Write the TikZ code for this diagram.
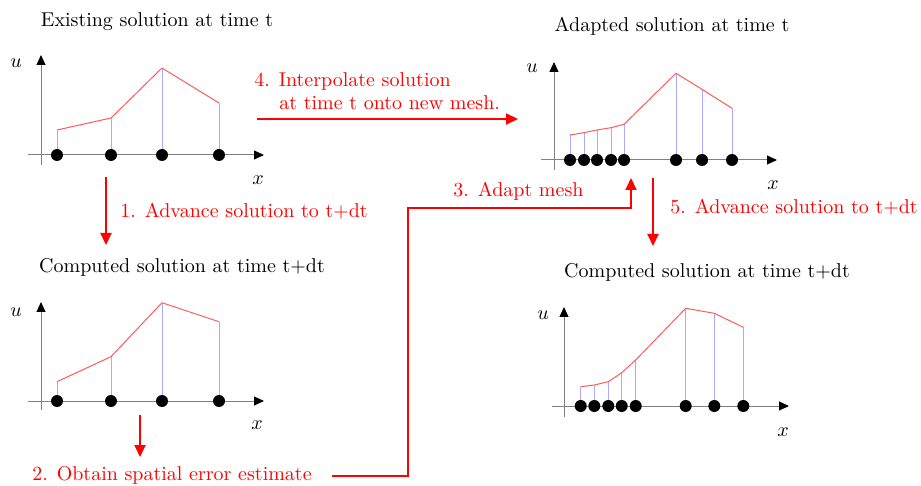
\documentclass[tikz,border=0pt]{standalone}
\usetikzlibrary{arrows.meta}
\begin{document}
\begin{tikzpicture}[x=0.5pt,y=-0.5pt,
  title/.style={font=\fontsize{10}{12}\selectfont, text=black, inner sep=0},
  steplabel/.style={font=\fontsize{10}{12}\selectfont, text=red, inner sep=0, anchor=west},
  axislabel/.style={font=\fontsize{10}{12}\selectfont, inner sep=0},
  axisline/.style={draw=black!50, line width=0.5pt, -{Triangle[length=5pt,width=4.5pt,color=black]}},
  stem/.style={draw={rgb,255:red,170;green,170;blue,255}, line width=0.5pt},
  curve/.style={draw={rgb,255:red,255;green,90;blue,90}, line width=0.5pt, line join=round},
  dot/.style={fill=black},
  flow/.style={draw=red, line width=1pt, -{Triangle[length=6pt,width=5.5pt]}},
  flowline/.style={draw=red, line width=1pt}
]
\useasboundingbox (0,0) rectangle (921,486);

% ---------- Panel 1: existing solution ----------
\node[title] (t1) at (157,22) {Existing solution at time t};
\draw[axisline] (41,165) -- (41,55);
\draw[axisline] (28,155) -- (264,155);
\node[axislabel] (u1) at (16,63) {$u$};
\node[axislabel] (x1) at (258,180) {$x$};
\foreach \px/\py in {57/130,111/118,162/68,219/103}
  \draw[stem] (\px,155) -- (\px,\py);
\draw[curve] (57,130) -- (111,118) -- (162,68) -- (219,103);
\foreach \px in {57,111,162,219}
  \fill[dot] (\px,155) circle[radius=3pt];

% ---------- Panel 2: adapted solution ----------
\node[title] (t2) at (672,26) {Adapted solution at time t};
\draw[axisline] (554,170) -- (554,62);
\draw[axisline] (541,160) -- (777,160);
\node[axislabel] (u2) at (532,68) {$u$};
\node[axislabel] (x2) at (773,185) {$x$};
\foreach \px/\py in {570/135,584/132.7,597/130,611/127.7,624/124.3,676/73.3,702/89.3,732/108.3}
  \draw[stem] (\px,160) -- (\px,\py);
\draw[curve] (570,135) -- (584,132.7) -- (597,130) -- (611,127.7) -- (624,124.3) -- (676,73.3) -- (702,89.3) -- (732,108.3);
\foreach \px in {570,584,597,611,624,676,702,732}
  \fill[dot] (\px,160) circle[radius=3pt];

% ---------- Panel 3: computed solution (left) ----------
\node[title] (t3) at (182,267) {Computed solution at time t+dt};
\draw[axisline] (41,410) -- (41,302);
\draw[axisline] (28,401) -- (264,401);
\node[axislabel] (u3) at (16,312) {$u$};
\node[axislabel] (x3) at (257,425) {$x$};
\foreach \px/\py in {57/381.7,111/356.7,162/302.7,219/321.7}
  \draw[stem] (\px,401) -- (\px,\py);
\draw[curve] (57,381.7) -- (111,356.7) -- (162,302.7) -- (219,321.7);
\foreach \px in {57,111,162,219}
  \fill[dot] (\px,401) circle[radius=3pt];

% ---------- Panel 4: computed solution (right) ----------
\node[title] (t4) at (707,272) {Computed solution at time t+dt};
\draw[axisline] (564,417) -- (564,307);
\draw[axisline] (552,406) -- (789,406);
\node[axislabel] (u4) at (543,315) {$u$};
\node[axislabel] (x4) at (783,432) {$x$};
\foreach \px/\py in {580.7/386.7,594.3/385,608.3/381.7,621.7/372.7,635.7/360,685.7/308.3,714.3/313.3,743.3/327.3}
  \draw[stem] (\px,406) -- (\px,\py);
\draw[curve] (580.7,386.7) -- (594.3,385) -- (608.3,381.7) -- (621.7,372.7) -- (635.7,360) -- (685.7,308.3) -- (714.3,313.3) -- (743.3,327.3);
\foreach \px in {580.7,594.3,608.3,621.7,635.7,685.7,714.3,743.3}
  \fill[dot] (\px,406) circle[radius=3pt];

% ---------- Step labels ----------
\node[steplabel] (s1) at (120,211) {1. Advance solution to t+dt};
\node[steplabel, anchor=center] (s2) at (172,475) {2. Obtain spatial error estimate};
\node[steplabel] (s3) at (453,191) {3. Adapt mesh};
\node[steplabel] (s4a) at (254,82) {4. Interpolate solution};
\node[steplabel] (s4b) at (279,103) {at time t onto new mesh.};
\node[steplabel] (s5) at (670,207) {5. Advance solution to t+dt};

% ---------- Flow connectors ----------
\coordinate (a1s) at (106,177);
\coordinate (a1e) at (106,245);
\draw[flow] (a1s) -- (a1e);

\coordinate (a2s) at (140,415);
\coordinate (a2e) at (140,457);
\draw[flow] (a2s) -- (a2e);

\coordinate (a3s) at (332,476);
\coordinate (a3c) at (408,208);
\coordinate (a3e) at (631,178);
\draw[flow, line join=miter] (a3s) -| (a3c) -| (a3e);

\coordinate (a4s) at (257,119);
\coordinate (a4e) at (518,119);
\draw[flow] (a4s) -- (a4e);

\coordinate (a5s) at (653,178);
\coordinate (a5e) at (653,246);
\draw[flow] (a5s) -- (a5e);
\end{tikzpicture}
\end{document}
